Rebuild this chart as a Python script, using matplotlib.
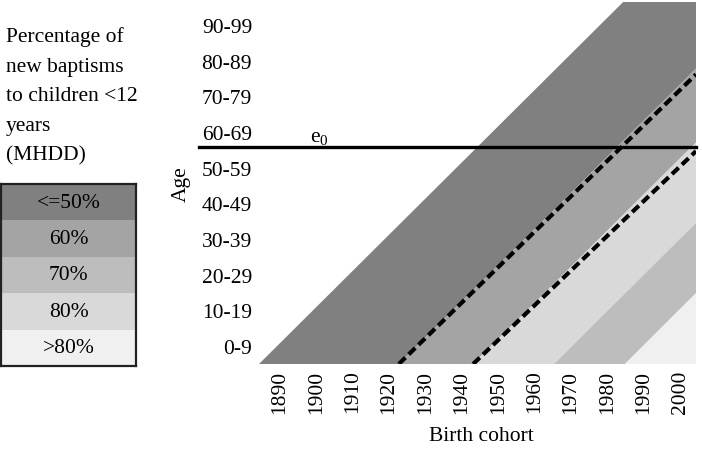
import numpy as np
import matplotlib
matplotlib.use("Agg")
import matplotlib.pyplot as plt

plt.rcParams["font.family"] = ["Liberation Serif", "DejaVu Serif"]
plt.rcParams["mathtext.fontset"] = "custom"
plt.rcParams["mathtext.rm"] = "Liberation Serif"

# --- data ---
legend_labels = ["<=50%", "60%", "70%", "80%", ">80%"]
legend_colors = ["#808080", "#a4a4a4", "#bdbdbd", "#d9d9d9", "#f0f0f0"]

cohort_labels = ["1890", "1900", "1910", "1920", "1930", "1940",
                 "1950", "1960", "1970", "1980", "1990", "2000"]
age_labels = ["0-9", "10-19", "20-29", "30-39", "40-49",
              "50-59", "60-69", "70-79", "80-89", "90-99"]

# diagonal bands: cohort where each boundary meets age 0 (left, right), and category
band_start = [1890.0, 1928.4, 1948.8, 1971.0, 1990.5]
band_end = [1928.4, 1948.8, 1971.0, 1990.5, 2010.0]
band_cat = ["<=50%", "60%", "80%", "70%", ">80%"]

# dashed boundaries: (cohort at age 0, age at right edge)
dash_start = [1928.4, 1948.8]
dash_end_age = [80.0, 58.8]

e0_age = 60
x_min, x_max = 1890, 2010
y_min, y_max = 0, 100

# --- figure ---
fig = plt.figure(figsize=(7.02, 4.52), dpi=100)
W, H = 702, 452
fs = 15.5

ax = fig.add_axes([259 / W, (H - 365) / H, (696 - 259) / W, (365 - 3) / H])
ax.set_xlim(x_min, x_max)
ax.set_ylim(y_min, y_max)

col = dict(zip(legend_labels, legend_colors))
for x0, x1, c in zip(band_start, band_end, band_cat):
    # each band lies between the lines age = cohort - x0 and age = cohort - x1
    if x0 + y_max < x_max:
        xs = [x0, x1, x_max, x_max, x0 + y_max]
        ys = [0, 0, x_max - x1, y_max, y_max]
    else:
        xs = [x0, x1, x_max, x_max]
        ys = [0, 0, x_max - x1, x_max - x0]
    ax.fill(xs, ys, color=col[c], lw=0)

for xs0, ya in zip(dash_start, dash_end_age):
    ax.plot([xs0, x_max], [0, ya], color="black", lw=3.0,
            dashes=(2.2, 1.1), dash_capstyle="butt")

ax.plot([1873.5, x_max], [e0_age, e0_age], color="black", lw=2.4, clip_on=False)
ax.text(1904.0, 61.6, r"$\mathregular{e_0}$", fontsize=fs, va="baseline", ha="left")

for s in ax.spines.values():
    s.set_visible(False)
ax.set_xticks(1895.7 + 10 * np.arange(len(cohort_labels)))
ax.set_xticklabels(cohort_labels, rotation=90, fontsize=fs)
ax.set_yticks(np.linspace(5, 93.6, len(age_labels)))
ax.set_yticklabels(age_labels, fontsize=fs)
ax.tick_params(length=0)
ax.tick_params(axis="x", pad=4)
ax.tick_params(axis="y", pad=5)
ax.set_xlabel("Birth cohort", fontsize=fs)
ax.xaxis.set_label_coords(0.51, -0.17)
ax.set_ylabel("Age", fontsize=fs)
ax.yaxis.set_label_coords(-0.157, 0.5)

# --- left side: title text and legend boxes ---
fig.text(6 / W, 1 - 27 / H, "Percentage of\nnew baptisms\nto children <12\nyears\n(MHDD)",
         fontsize=fs, ha="left", va="top", linespacing=1.76)

lax = fig.add_axes([1 / W, (H - 367) / H, (136 - 1) / W, (367 - 185) / H])
n = len(legend_labels)
lax.barh(np.arange(n), [1] * n, height=1.0, color=legend_colors, lw=0)
for i, lab in enumerate(legend_labels):
    lax.text(0.5, i, lab, ha="center", va="center", fontsize=fs)
lax.set_xlim(0, 1)
lax.set_ylim(n - 0.5, -0.5)
lax.set_xticks([])
lax.set_yticks([])
for s in lax.spines.values():
    s.set_linewidth(1.6)
    s.set_color("#222222")

fig.savefig("out.png", dpi=100)
